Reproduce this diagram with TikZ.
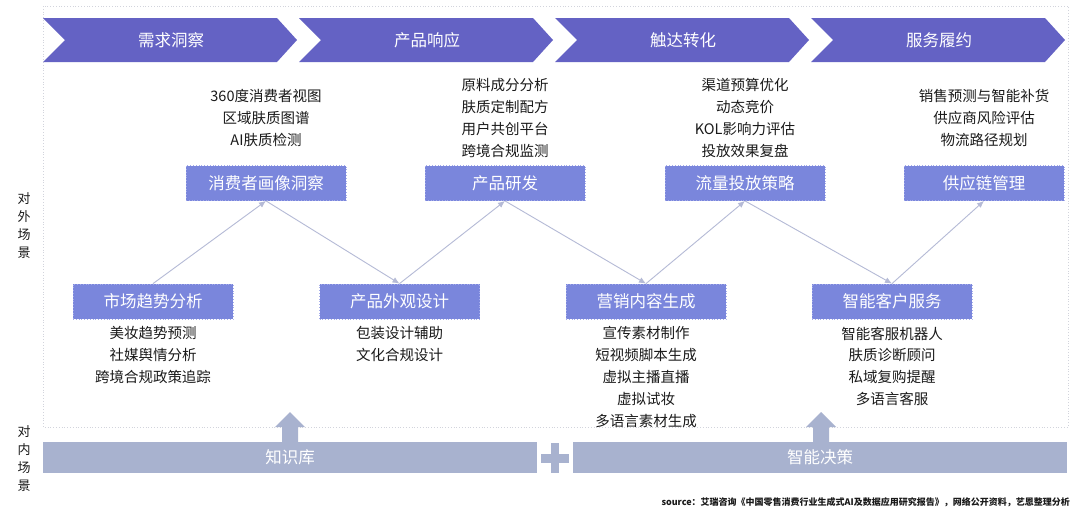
\documentclass[tikz,border=0pt]{standalone}
\usepackage{fontspec}
\setmainfont{Noto Sans CJK SC}
\usetikzlibrary{arrows.meta}
\definecolor{chev}{HTML}{6462C4}
\definecolor{boxc}{HTML}{7A86DC}
\definecolor{boxb}{HTML}{A4ACEA}
\definecolor{barc}{HTML}{A8B2CF}
\definecolor{linec}{HTML}{B5BAD6}
\definecolor{framec}{HTML}{D2D4DC}
\definecolor{txt}{HTML}{1A1A1A}
\begin{document}
\begin{tikzpicture}[x=1pt,y=-1pt,
  stagebox/.style={minimum width=160pt, minimum height=35pt, inner sep=0pt,
    fill=boxc, draw=boxb, dotted, line width=0.8pt, text=white,
    font=\fontsize{16.5}{18}\selectfont},
  chevlabel/.style={text=white, inner sep=0pt, font=\fontsize{16.5}{18}\selectfont},
  toplist/.style={align=center, inner sep=0pt, text=txt,
    font=\fontsize{14.5}{22.2}\selectfont},
  botlist/.style={align=center, inner sep=0pt, text=txt, anchor=north,
    font=\fontsize{14.5}{21.8}\selectfont},
  sidelabel/.style={align=center, inner sep=0pt, text=txt,
    font=\fontsize{13}{18}\selectfont},
  barbox/.style={minimum width=494pt, minimum height=31pt, inner sep=0pt,
    fill=barc, text=white, font=\fontsize{16.5}{18}\selectfont},
  conn/.style={draw=linec, line width=0.9pt, -{Latex[length=7pt,width=6pt]}}
]
\useasboundingbox (0,0) rectangle (1080,512);
\fill[white] (0,0) rectangle (1080,512);

% frame
\draw[framec, dotted, line width=0.8pt] (43,6) rectangle (1068,427);

% chevrons
\foreach \x in {43,299,555,811}{
  \fill[chev] (\x,18) -- ({\x+234},18) -- ({\x+254},40) -- ({\x+234},62)
    -- (\x,62) -- ({\x+22},40) -- cycle;
}
\node[chevlabel] (s1) at (171,40) {需求洞察};
\node[chevlabel] (s2) at (427,40) {产品响应};
\node[chevlabel] (s3) at (683,40) {触达转化};
\node[chevlabel] (s4) at (939,40) {服务履约};

% top boxes
\node[stagebox] (t1) at (266,183) {消费者画像洞察};
\node[stagebox] (t2) at (505,183) {产品研发};
\node[stagebox] (t3) at (745,183) {流量投放策略};
\node[stagebox] (t4) at (984,183) {供应链管理};

% bottom boxes
\node[stagebox] (b1) at (153,301.5) {市场趋势分析};
\node[stagebox] (b2) at (399.5,301.5) {产品外观设计};
\node[stagebox] (b3) at (646,301.5) {营销内容生成};
\node[stagebox] (b4) at (892,301.5) {智能客户服务};

% top lists
\node[toplist] (l1) at (266,118) {360度消费者视图\\区域肤质图谱\\AI肤质检测};
\node[toplist] (l2) at (505,118) {原料成分分析\\肤质定制配方\\用户共创平台\\跨境合规监测};
\node[toplist] (l3) at (745,118) {渠道预算优化\\动态竞价\\KOL影响力评估\\投放效果复盘};
\node[toplist] (l4) at (984,118) {销售预测与智能补货\\供应商风险评估\\物流路径规划};

% bottom lists
\node[botlist] (m1) at (153,326.5) {美妆趋势预测\\社媒舆情分析\\跨境合规政策追踪};
\node[botlist] (m2) at (399.5,326.5) {包装设计辅助\\文化合规设计};
\node[botlist] (m3) at (646,326.5) {宣传素材制作\\短视频脚本生成\\虚拟主播直播\\虚拟试妆\\多语言素材生成};
\node[botlist] (m4) at (892,326.5) {智能客服机器人\\肤质诊断顾问\\私域复购提醒\\多语言客服};

% connectors
\draw[conn] (b1.north) -- (t1.south);
\draw[conn] (t1.south) -- (b2.north);
\draw[conn] (b2.north) -- (t2.south);
\draw[conn] (t2.south) -- (b3.north);
\draw[conn] (b3.north) -- (t3.south);
\draw[conn] (t3.south) -- (b4.north);
\draw[conn] (b4.north) -- (t4.south);

% side labels
\node[sidelabel] (outer) at (24,225.5) {对\\外\\场\\景};
\node[sidelabel] (inner) at (24,459) {对\\内\\场\\景};

% bars
\node[barbox] (kb) at (290,457.5) {知识库};
\node[barbox] (dec) at (820,457.5) {智能决策};

% plus
\fill[barc] (541,453.5) rectangle (569,462.5);
\fill[barc] (551,443) rectangle (559,473);

% up block arrows
\foreach \c in {290,821}{
  \fill[barc] ({\c-8},442) -- ({\c-8},427) -- ({\c-15},427) -- (\c,412)
    -- ({\c+15},427) -- ({\c+8},427) -- ({\c+8},442) -- cycle;
}

% source
\node[anchor=east, inner sep=0pt, text=txt, font=\fontsize{9}{10}\selectfont\bfseries] (src) at (1070,502)
  {source：艾瑞咨询《中国零售消费行业生成式AI及数据应用研究报告》，网络公开资料，艺恩整理分析};
\end{tikzpicture}
\end{document}
